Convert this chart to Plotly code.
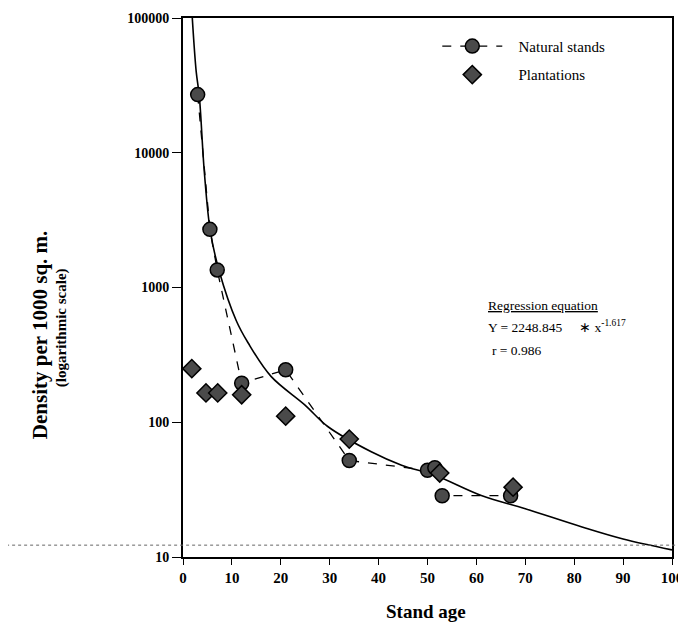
import plotly.graph_objects as go

# Natural stands (circles, dashed)
nat_age = [3, 5.5, 7, 12, 21, 34, 50, 51.5, 53, 67]
nat_den = [27000, 2700, 1350, 195, 245, 52, 44, 46, 28.5, 28.5]

# Plantations (diamonds)
pla_age = [1.8, 4.7, 7.1, 12, 21, 34, 52.5, 67.5]
pla_den = [250, 165, 165, 160, 111, 75, 42, 33]

# Regression curve
reg_age = [1.9, 2.7, 3.34, 4.36, 5.6, 7.44, 10.9, 13.3, 18, 24.9, 29.6, 38.5, 44.7, 51.5, 61, 70, 81.6, 90, 100]
reg_den = [100000, 40000, 26200, 7200, 2600, 1310, 567, 389, 219, 134.6, 93, 60.4, 48, 40.4, 28.6, 22.8, 16.7, 13.6, 11.3]

x_ticks = [0, 10, 20, 30, 40, 50, 60, 70, 80, 90, 100]
y_ticks = [10, 100, 1000, 10000, 100000]

SERIF = "Liberation Serif"
NB = "\u00a0" * 3

fig = go.Figure()
fig.add_trace(go.Scatter(
    x=reg_age, y=reg_den, mode="lines", line=dict(color="black", width=1.6, shape="spline"),
    showlegend=False, hoverinfo="skip"))
fig.add_trace(go.Scatter(
    x=nat_age, y=nat_den, mode="lines+markers", name=NB + "Natural stands",
    line=dict(color="black", width=1.3, dash="dash"),
    marker=dict(symbol="circle", size=14, color="#4a4a4a", line=dict(color="black", width=1.5)),
    legendgroup="a"))
fig.add_trace(go.Scatter(
    x=pla_age, y=pla_den, mode="markers", name=NB + "Plantations",
    marker=dict(symbol="diamond", size=14, color="#4a4a4a", line=dict(color="black", width=1.5)),
    legendgroup="b"))

# page body has an 8px margin: plot area spans x 183..672, y 18..557 in the window
fig.update_layout(
    width=686, height=627,
    margin=dict(l=175, r=22, t=10, b=78),
    paper_bgcolor="white", plot_bgcolor="white",
    font=dict(family=SERIF, color="black"),
    legend=dict(x=0.52, y=0.978, xanchor="left", yanchor="top", bgcolor="rgba(0,0,0,0)",
                font=dict(family=SERIF, size=15, color="black"), tracegroupgap=6,
                traceorder="grouped", itemwidth=60),
    xaxis=dict(range=[0, 100], tickvals=x_ticks, ticktext=[str(v) for v in x_ticks],
               showgrid=False, zeroline=False, showline=True, linecolor="black", linewidth=2,
               mirror=True, ticks="outside", ticklen=6, tickcolor="black", automargin=False,
               tickfont=dict(family=SERIF, size=15, color="black", weight="bold")),
    yaxis=dict(type="log", range=[1, 5], tickvals=y_ticks, ticktext=[str(v) for v in y_ticks],
               showgrid=False, zeroline=False, showline=True, linecolor="black", linewidth=2,
               mirror=True, ticks="outside", ticklen=9, tickcolor="black", automargin=False,
               tickfont=dict(family=SERIF, size=14, color="black", weight="bold")),
)

# X axis title
fig.add_annotation(xref="paper", yref="paper", x=0.497, y=-0.102, xanchor="center", yanchor="middle",
                   text="<b>Stand age</b>", showarrow=False, font=dict(family=SERIF, size=19))

# Y axis title (two lines)
fig.add_annotation(xref="paper", yref="paper", x=-0.292, y=0.412, xanchor="center", yanchor="middle",
                   text="<b>Density per 1000 sq. m.</b>",
                   textangle=-90, showarrow=False, font=dict(family=SERIF, size=21))
fig.add_annotation(xref="paper", yref="paper", x=-0.247, y=0.425, xanchor="center", yanchor="middle",
                   text="<b>(logarithmic scale)</b>",
                   textangle=-90, showarrow=False, font=dict(family=SERIF, size=15))

# Regression text
fig.add_annotation(xref="paper", yref="paper", x=0.62, y=(557 - 305) / 539, xanchor="left",
                   text="<u>Regression equation</u>", showarrow=False, font=dict(family=SERIF, size=13.5))
fig.add_annotation(xref="paper", yref="paper", x=0.62, y=(557 - 326) / 539, xanchor="left",
                   text="Y = 2248.845     \u2217 x<sup>-1.617</sup>", showarrow=False,
                   font=dict(family=SERIF, size=13.5))
fig.add_annotation(xref="paper", yref="paper", x=0.627, y=(557 - 350) / 539, xanchor="left",
                   text="r = 0.986", showarrow=False, font=dict(family=SERIF, size=13.5))

# dotted fold line across the page
fig.add_shape(type="line", xref="paper", yref="paper", x0=-0.374, x1=1.03, y0=0.022, y1=0.022,
              line=dict(color="#666", width=1, dash="dot"))

fig.write_html("out.html")
